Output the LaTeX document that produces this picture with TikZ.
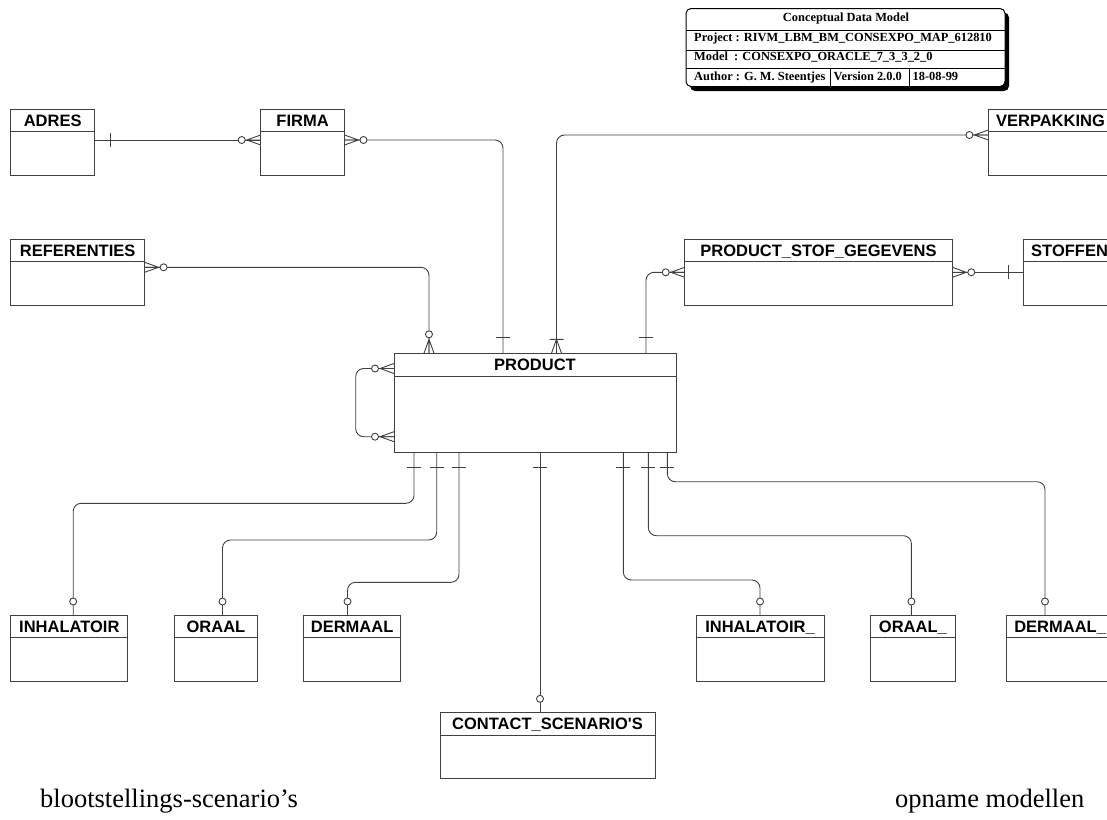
\documentclass[tikz,border=0pt]{standalone}
\usepackage{fontspec}
\setmainfont{Liberation Serif}
\setsansfont{Liberation Sans}
\usetikzlibrary{calc}

% entity box: name, left, top, right, bottom, label
\newcommand{\entity}[6]{%
  \node[entity, minimum width={#4-#2}, minimum height={#5-#3}] (#1) at ({(#2+#4)/2},{(#3+#5)/2}) {};
  \draw[entline] ([yshift=-22.7pt]#1.north west) -- ([yshift=-22.7pt]#1.north east);
  \node[enttitle] (#1-t) at ([yshift=-17.5pt]#1.north) {#6};}
% same, box runs off the page, label from the left
\newcommand{\entitycut}[6]{%
  \node[entity, minimum width={#4-#2}, minimum height={#5-#3}] (#1) at ({(#2+#4)/2},{(#3+#5)/2}) {};
  \draw[entline] ([yshift=-22.7pt]#1.north west) -- ([yshift=-22.7pt]#1.north east);
  \node[enttitle, anchor=base west] (#1-t) at ([xshift=7.5pt,yshift=-17.5pt]#1.north west) {#6};}

\begin{document}
\begin{tikzpicture}[x=1pt, y=-1pt,
    entity/.style={draw=black!75, line width=0.9pt, fill=white, inner sep=0pt, outer sep=0pt},
    entline/.style={draw=black!75, line width=0.9pt},
    conn/.style={draw=black!75, line width=0.9pt, rounded corners=8pt},
    endmark/.style={draw=black!75, line width=0.9pt},
    enttitle/.style={font=\sffamily\bfseries\fontsize{16.5}{18}\selectfont, anchor=base, inner sep=0pt},
    titletext/.style={font=\bfseries\fontsize{12.4}{14}\selectfont, anchor=base west, inner sep=0pt},
    caption/.style={font=\fontsize{26.5}{30}\selectfont, anchor=base west, inner sep=0pt},
    crowone/.pic={\draw[endmark] (15.5,-7) -- (15.5,7);},
    crowzeroone/.pic={\draw[endmark, fill=white] (13.5,0) circle[radius=3.5pt];},
    crowzeromany/.pic={\draw[endmark] (0,-5) -- (14,0) -- (0,5) (0,0) -- (15.5,0);
      \draw[endmark, fill=white] (19,0) circle[radius=3.5pt];},
    crowonemany/.pic={\draw[endmark] (0,-5) -- (14,0) -- (0,5) (0,0) -- (14,0) (14,-7) -- (14,7);}]
  \clip (0,0) rectangle (1107,819);

  % title block
  \fill[black, rounded corners=5pt] (690,12.5) rectangle (1009,91);
  \draw[fill=white, line width=1pt, rounded corners=5pt] (686,8.5) rectangle (1005,86.5);
  \draw[line width=0.8pt] (686,30.7) -- (1005,30.7) (686,50) -- (1005,50) (686,68.3) -- (1005,68.3)
    (830.7,68.3) -- (830.7,86.5) (909.3,68.3) -- (909.3,86.5);
  \node[titletext, anchor=base] (tb-title) at (846,21.7) {Conceptual Data Model};
  \node[titletext] (tb-project) at (694,41) {Project : RIVM\_LBM\_BM\_CONSEXPO\_MAP\_612810};
  \node[titletext] (tb-model) at (694,60) {Model~~: CONSEXPO\_ORACLE\_7\_3\_3\_2\_0};
  \node[titletext] (tb-author) at (694,80) {Author : G. M. Steentjes};
  \node[titletext] (tb-version) at (833.5,80) {Version 2.0.0};
  \node[titletext] (tb-date) at (912.5,80) {18-08-99};

  % entities
  \entity{adres}{10.7}{109}{94.6}{175}{ADRES}
  \entity{firma}{260.7}{109}{344.5}{175}{FIRMA}
  \entitycut{verpakking}{988.4}{109}{1140}{175}{VERPAKKING}
  \entity{referenties}{10.7}{239}{144.6}{305}{REFERENTIES}
  \entity{psg}{684.7}{239}{952.3}{305}{PRODUCT\_STOF\_GEGEVENS}
  \entitycut{stoffen}{1023.5}{239}{1140}{305}{STOFFEN}
  \entity{product}{394}{353.3}{676}{452}{PRODUCT}
  \entity{inhalatoir}{10.7}{615}{127.9}{681}{INHALATOIR}
  \entity{oraal}{174}{615}{257.9}{681}{ORAAL}
  \entity{dermaal}{303.6}{615}{400.7}{681}{DERMAAL}
  \entity{inhalatoirb}{696}{615}{824}{681}{INHALATOIR\_}
  \entity{oraalb}{870.5}{615}{955.3}{681}{ORAAL\_}
  \entitycut{dermaalb}{1006.6}{615}{1140}{681}{DERMAAL\_}
  \entity{contact}{440}{712.3}{655}{778.3}{CONTACT\_SCENARIO\textquotesingle S}

  % relations above PRODUCT
  \draw[conn] (adres.east |- 0,140) -- (firma.west |- 0,140);
  \pic at (adres.east |- 0,140) {crowone};
  \pic[rotate=180] at (firma.west |- 0,140) {crowzeromany};

  \draw[conn] (firma.east |- 0,140) -| (503,0 |- product.north);
  \pic at (firma.east |- 0,140) {crowzeromany};
  \pic[rotate=90] at (503,0 |- product.north) {crowone};

  \draw[conn] (verpakking.west |- 0,135) -| (556.5,0 |- product.north);
  \pic[rotate=180] at (verpakking.west |- 0,135) {crowzeromany};
  \pic[rotate=90] at (556.5,0 |- product.north) {crowonemany};

  \draw[conn] (referenties.east |- 0,267.3) -| (429,0 |- product.north);
  \pic at (referenties.east |- 0,267.3) {crowzeromany};
  \pic[rotate=90] at (429,0 |- product.north) {crowzeromany};

  \draw[conn] (psg.west |- 0,272.3) -| (646,0 |- product.north);
  \pic[rotate=180] at (psg.west |- 0,272.3) {crowzeromany};
  \pic[rotate=90] at (646,0 |- product.north) {crowone};

  \draw[conn] (psg.east |- 0,272.3) -- (stoffen.west |- 0,272.3);
  \pic at (psg.east |- 0,272.3) {crowzeromany};
  \pic[rotate=180] at (stoffen.west |- 0,272.3) {crowone};

  % PRODUCT to itself
  \draw[conn] (product.west |- 0,368.5) -- (355.7,368.5) -- (355.7,436.7) -- (product.west |- 0,436.7);
  \pic[rotate=180] at (product.west |- 0,368.5) {crowzeromany};
  \pic[rotate=180] at (product.west |- 0,436.7) {crowzeromany};

  % relations below PRODUCT
  \foreach \xa/\ya/\xb/\dest in {414/503.3/73.2/inhalatoir, 436.7/540/222.5/oraal,
      459/582.3/347.5/dermaal, 623.3/580/760/inhalatoirb,
      648.3/535.7/911.4/oraalb, 667.3/481.7/1045/dermaalb}{
    \draw[conn] (\xa,0 |- product.south) |- (\xb,\ya) -- (\xb,0 |- \dest.north);
    \pic[rotate=-90] at (\xa,0 |- product.south) {crowone};
    \pic[rotate=90] at (\xb,0 |- \dest.north) {crowzeroone};
  }
  \draw[conn] (540,0 |- product.south) -- (540,0 |- contact.north);
  \pic[rotate=-90] at (540,0 |- product.south) {crowone};
  \pic[rotate=90] at (540,0 |- contact.north) {crowzeroone};

  % captions
  \node[caption] (cap-left) at (40,807) {blootstellings-scenario’s};
  \node[caption] (cap-right) at (895,807) {opname modellen};
\end{tikzpicture}
\end{document}
